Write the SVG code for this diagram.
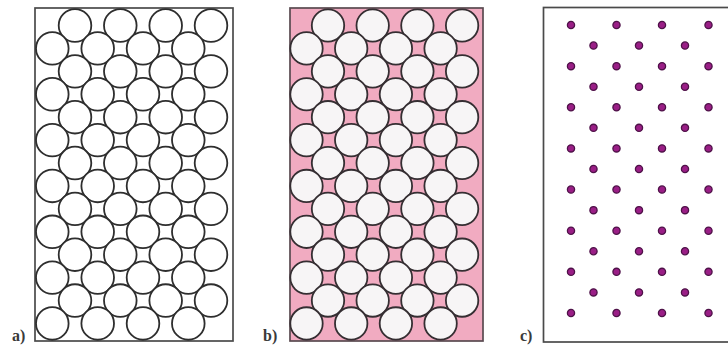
<svg xmlns="http://www.w3.org/2000/svg" xmlns:xlink="http://www.w3.org/1999/xlink" width="728" height="352" viewBox="0 0 728 352">
<style>
.frame{fill:#ffffff;stroke:#4a4a4a;stroke-width:1.7}
.pink{fill:#f1abc1;stroke:#5a4a50;stroke-width:1.7}
.ball{fill:#ffffff;stroke:#2e2e2e;stroke-width:1.8}
.ballb{fill:#f7f5f6;stroke:#352e32;stroke-width:1.8}
.dot{fill:#9a1e86;stroke:#4e1248;stroke-width:1.3}
.lbl{font-family:"Liberation Serif","Times New Roman",serif;font-size:16px;font-weight:bold;fill:#3a3a3a}
</style>
<defs>
<g id="pairA">
<circle class="ball" cx="75" cy="0" r="16.3"/>
<circle class="ball" cx="120.3" cy="0" r="16.3"/>
<circle class="ball" cx="165.7" cy="0" r="16.3"/>
<circle class="ball" cx="211" cy="0" r="16.3"/>
<circle class="ball" cx="52.3" cy="22.92" r="16.3"/>
<circle class="ball" cx="97.7" cy="22.92" r="16.3"/>
<circle class="ball" cx="143" cy="22.92" r="16.3"/>
<circle class="ball" cx="188.3" cy="22.92" r="16.3"/>
</g>
<g id="pairB">
<circle class="ballb" cx="328" cy="0" r="16.2"/>
<circle class="ballb" cx="372.7" cy="0" r="16.2"/>
<circle class="ballb" cx="417.4" cy="0" r="16.2"/>
<circle class="ballb" cx="462.1" cy="0" r="16.2"/>
<circle class="ballb" cx="306.5" cy="22.92" r="16.2"/>
<circle class="ballb" cx="351.2" cy="22.92" r="16.2"/>
<circle class="ballb" cx="395.9" cy="22.92" r="16.2"/>
<circle class="ballb" cx="440.6" cy="22.92" r="16.2"/>
</g>
<g id="rowC1">
<circle class="dot" cx="571" cy="0" r="3.6"/>
<circle class="dot" cx="616.5" cy="0" r="3.6"/>
<circle class="dot" cx="662" cy="0" r="3.6"/>
<circle class="dot" cx="708.5" cy="0" r="3.6"/>
</g>
<g id="rowC2">
<circle class="dot" cx="593.5" cy="0" r="3.6"/>
<circle class="dot" cx="639" cy="0" r="3.6"/>
<circle class="dot" cx="685" cy="0" r="3.6"/>
</g>
</defs>
<rect width="728" height="352" fill="#ffffff"/>

<g id="panel-a">
<rect class="frame" x="35" y="8" width="198" height="333"/>
<use xlink:href="#pairA" href="#pairA" y="25.5"/>
<use xlink:href="#pairA" href="#pairA" y="71.34"/>
<use xlink:href="#pairA" href="#pairA" y="117.18"/>
<use xlink:href="#pairA" href="#pairA" y="163.02"/>
<use xlink:href="#pairA" href="#pairA" y="208.86"/>
<use xlink:href="#pairA" href="#pairA" y="254.7"/>
<use xlink:href="#pairA" href="#pairA" y="300.54"/>
<text class="lbl" x="12" y="341">a)</text>
</g>

<g id="panel-b">
<rect class="pink" x="290" y="8" width="193" height="333"/>
<use xlink:href="#pairB" href="#pairB" y="25.5"/>
<use xlink:href="#pairB" href="#pairB" y="71.34"/>
<use xlink:href="#pairB" href="#pairB" y="117.18"/>
<use xlink:href="#pairB" href="#pairB" y="163.02"/>
<use xlink:href="#pairB" href="#pairB" y="208.86"/>
<use xlink:href="#pairB" href="#pairB" y="254.7"/>
<use xlink:href="#pairB" href="#pairB" y="300.54"/>
<text class="lbl" x="263" y="341">b)</text>
</g>

<g id="panel-c">
<rect class="frame" x="543.5" y="7.5" width="200" height="334.5" stroke="#5a5a5a" stroke-width="2.2"/>
<use xlink:href="#rowC1" href="#rowC1" y="25"/>
<use xlink:href="#rowC2" href="#rowC2" y="45.57"/>
<use xlink:href="#rowC1" href="#rowC1" y="66.14"/>
<use xlink:href="#rowC2" href="#rowC2" y="86.71"/>
<use xlink:href="#rowC1" href="#rowC1" y="107.28"/>
<use xlink:href="#rowC2" href="#rowC2" y="127.85"/>
<use xlink:href="#rowC1" href="#rowC1" y="148.42"/>
<use xlink:href="#rowC2" href="#rowC2" y="169"/>
<use xlink:href="#rowC1" href="#rowC1" y="189.56"/>
<use xlink:href="#rowC2" href="#rowC2" y="210.13"/>
<use xlink:href="#rowC1" href="#rowC1" y="230.7"/>
<use xlink:href="#rowC2" href="#rowC2" y="251.27"/>
<use xlink:href="#rowC1" href="#rowC1" y="271.84"/>
<use xlink:href="#rowC2" href="#rowC2" y="292.41"/>
<use xlink:href="#rowC1" href="#rowC1" y="313"/>
<text class="lbl" x="520" y="341">c)</text>
</g>
</svg>
